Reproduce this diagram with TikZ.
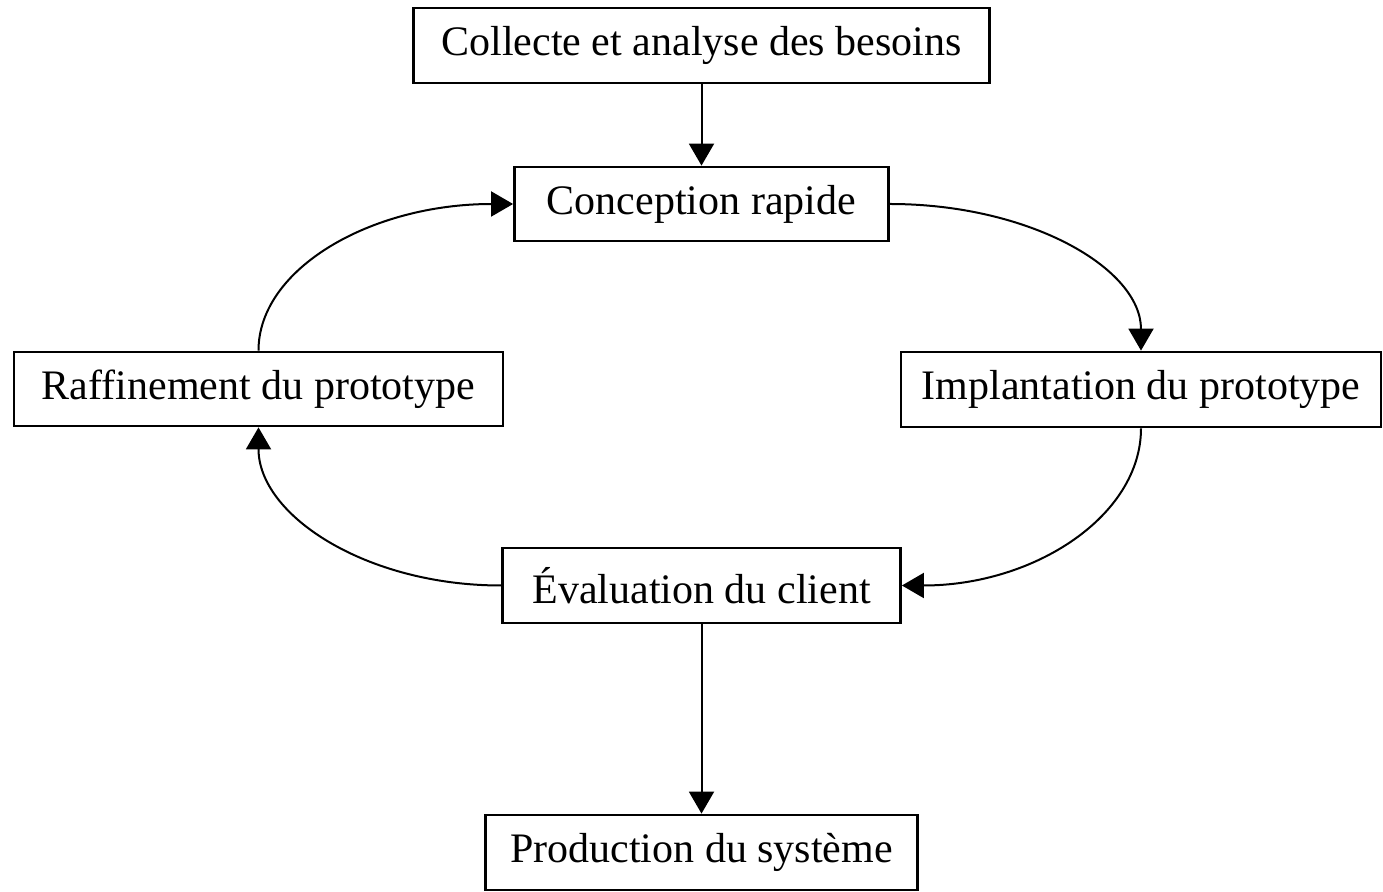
\documentclass[tikz,border=0pt]{standalone}
\usepackage{fontspec}
\setmainfont{Liberation Serif}
\usetikzlibrary{arrows.meta}
\begin{document}
\begin{tikzpicture}[x=0.5pt,y=0.5pt,
  box/.style={draw,line width=1.4pt,inner sep=0pt,minimum height=37.5pt,font=\fontsize{21}{25}\selectfont},
  conn/.style={line width=1pt,-{Triangle[width=12.5pt,length=11pt]}}]
\useasboundingbox (0,0) rectangle (1383,-892);
\node[box,minimum width=288pt] (collecte) at (701.5,-45.5) {Collecte et analyse des besoins};
\node[box,minimum width=187pt,minimum height=37pt] (conception) at (701.5,-204) {Conception rapide};
\node[box,minimum width=244.5pt,minimum height=37pt] (raffinement) at (258.5,-389) {Raffinement du prototype};
\node[box,minimum width=240pt] (implantation) at (1141,-389.5) {Implantation du prototype};
\node[box,minimum width=199pt] (evaluation) at (701.5,-585.5) {Évaluation du client};
\node[box,minimum width=216pt] (production) at (701.5,-852.5) {Production du système};
\draw[conn] (collecte.south) -- (conception.north);
\draw[conn] (evaluation.south) -- (production.north);
\draw[conn] (conception.east) to[out=0,in=90,out distance=70pt,in distance=41pt] (implantation.north);
\draw[conn] (implantation.south) to[out=-90,in=0,out distance=43.5pt,in distance=66.5pt] (evaluation.east);
\draw[conn] (evaluation.west) to[out=180,in=-90,out distance=67.5pt,in distance=44pt] (raffinement.south);
\draw[conn] (raffinement.north) to[out=90,in=180,out distance=41pt,in distance=71pt] (conception.west);
\end{tikzpicture}
\end{document}
